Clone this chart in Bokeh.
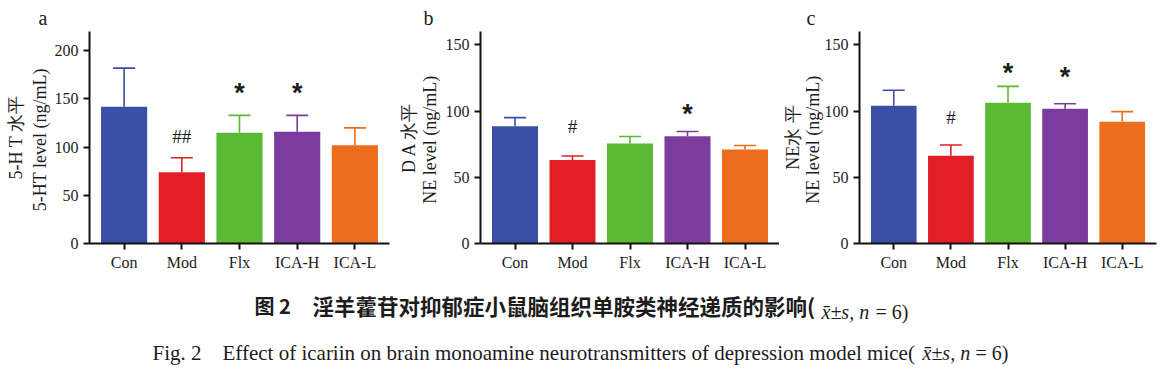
from bokeh.plotting import figure
from bokeh.models import FactorRange, Range1d, LinearAxis, FixedTicker, Title, ColumnDataSource
from bokeh.layouts import column, row
from bokeh.embed import file_html
from bokeh.resources import INLINE
from bokeh.core.properties import value

# ---------------- data ----------------
cats = ["Con", "Mod", "Flx", "ICA-H", "ICA-L"]
bar_colors = ["#3A50A8", "#E21F26", "#5BB935", "#7B3C9E", "#EC6D1C"]

ht_mean = [142, 74, 115, 116, 102]
ht_sd = [40, 15, 18, 17, 18]
da_mean = [88.5, 63, 75.5, 81, 71]
da_sd = [6.5, 3, 5.3, 3.5, 3]
ne_mean = [104, 66.3, 106.3, 101.7, 91.9]
ne_sd = [11.7, 8, 12.3, 3.8, 7.6]

ht_sig_cats = ["Mod", "Flx", "ICA-H"]
ht_sig_text = ["##", "*", "*"]
ht_sig_y = [111, 162, 162]
da_sig_cats = ["Mod", "ICA-H"]
da_sig_text = ["#", "*"]
da_sig_y = [88, 102.5]
ne_sig_cats = ["Mod", "Flx", "ICA-H"]
ne_sig_text = ["#", "*", "*"]
ne_sig_y = [95, 133, 130]

ht_ticks = [0, 50, 100, 150, 200]
da_ticks = [0, 50, 100, 150]
ne_ticks = [0, 50, 100, 150]

caption_cn_fig = "图 2"
caption_cn = "淫羊藿苷对抑郁症小鼠脑组织单胺类神经递质的影响("
caption_en_fig = "Fig. 2"
caption_en = "Effect of icariin on brain monoamine neurotransmitters of depression model mice("
caption_stat = "x\u0304±s, n"
caption_n = "= 6)"

SERIF = "Liberation Serif"
TXT = "#1c1c1c"


def panel(letter, letter_offset, mean, sd, ymax, ticks, lab_en, lab_cn, sig_cats,
          sig_text, sig_y, width, left, right, s1, s2):
    p = figure(width=width, height=280,
               x_range=FactorRange(*cats, range_padding=0.1, range_padding_units="absolute"),
               y_range=Range1d(0, ymax), output_backend="svg", toolbar_location=None,
               min_border_left=left, min_border_right=right, min_border_top=31,
               min_border_bottom=37)
    p.title = Title(text=letter, align="left", offset=letter_offset, standoff=5,
                    text_font=SERIF, text_font_size="20px", text_font_style="normal",
                    text_color=TXT)
    p.xgrid.visible = False
    p.ygrid.visible = False
    p.outline_line_color = None

    src = ColumnDataSource(dict(cat=cats, mean=mean, top=[m + s for m, s in zip(mean, sd)],
                                color=bar_colors))
    p.vbar(x="cat", top="mean", bottom=0, width=0.8, source=src,
           fill_color="color", line_color=None)
    p.segment(x0="cat", y0="mean", x1="cat", y1="top", source=src,
              line_color="color", line_width=1.6)
    p.scatter(x="cat", y="top", source=src, marker="dash", size=22,
              line_color="color", line_width=1.6)

    # significance marks
    hx = [c for c, t in zip(sig_cats, sig_text) if "#" in t]
    ht = [t for t in sig_text if "#" in t]
    hy = [y for y, t in zip(sig_y, sig_text) if "#" in t]
    p.text(x=hx, y=hy, text=ht, text_font=value(SERIF), text_font_size="19px",
           text_align="center", text_baseline="middle", text_color=TXT)
    sx = [c for c, t in zip(sig_cats, sig_text) if "*" in t]
    st = [t for t in sig_text if "*" in t]
    sy = [y for y, t in zip(sig_y, sig_text) if "*" in t]
    p.text(x=sx, y=sy, text=st, text_font=value("Liberation Sans"), text_font_size="27px",
           text_font_style="bold", text_align="center", text_baseline="middle",
           text_color=TXT, y_offset=6)

    # axes
    for ax in (p.xaxis[0], p.yaxis[0]):
        ax.axis_line_width = 2
        ax.axis_line_color = "#111111"
        ax.major_tick_line_width = 2
        ax.major_tick_line_color = "#111111"
        ax.major_tick_out = 6
        ax.major_tick_in = 0
        ax.minor_tick_line_color = None
        ax.major_label_text_font = SERIF
        ax.major_label_text_font_size = "16px"
        ax.major_label_text_color = TXT
    p.yaxis[0].ticker = FixedTicker(ticks=ticks)
    p.yaxis[0].axis_label = lab_en
    p.yaxis[0].axis_label_text_font = SERIF
    p.yaxis[0].axis_label_text_font_size = "18px"
    p.yaxis[0].axis_label_text_font_style = "normal"
    p.yaxis[0].axis_label_text_color = TXT
    p.yaxis[0].axis_label_standoff = s1
    p.xaxis[0].major_label_standoff = 4

    extra = LinearAxis(ticker=FixedTicker(ticks=[]), axis_line_color=None,
                       major_tick_line_color=None, minor_tick_line_color=None,
                       major_tick_out=0, major_tick_in=0, major_label_standoff=0,
                       axis_label=lab_cn, axis_label_standoff=s2,
                       axis_label_text_font=SERIF, axis_label_text_font_size="18px",
                       axis_label_text_font_style="normal", axis_label_text_color=TXT)
    p.add_layout(extra, "left")
    return p


pa = panel("a", -51, ht_mean, ht_sd, 220, ht_ticks, "5-HT level  (ng/mL)", "5-H T 水平",
           ht_sig_cats, ht_sig_text, ht_sig_y, 395, 89, 6, 2, 1)
pb = panel("b", -57, da_mean, da_sd, 160, da_ticks, "NE level  (ng/mL)", "D A 水平",
           da_sig_cats, da_sig_text, da_sig_y, 384, 84, 0, 3, -2)
pc = panel("c", -53, ne_mean, ne_sd, 160, ne_ticks, "NE level  (ng/mL)", "NE水 平",
           ne_sig_cats, ne_sig_text, ne_sig_y, 379, 77, 2, -1, -3)

# ---------------- caption ----------------
cap = figure(width=1166, height=101, x_range=Range1d(0, 1166), y_range=Range1d(101, 0),
             output_backend="svg", toolbar_location=None, x_axis_type=None,
             y_axis_type=None, min_border=0)
cap.xgrid.visible = False
cap.ygrid.visible = False
cap.outline_line_color = None

CJK = "Noto Sans CJK SC"
cap.text(x=[254], y=[24.5], text=[caption_cn_fig], text_font=value(CJK),
         text_font_size="20px", text_font_style="bold", text_baseline="middle",
         text_align="left", text_color=TXT)
cap.text(x=[312], y=[24.5], text=[caption_cn], text_font=value(CJK),
         text_font_size="21.5px", text_font_style="bold", text_baseline="middle",
         text_align="left", text_color=TXT)
cap.text(x=[821], y=[31], text=[caption_stat], text_font=value(SERIF),
         text_font_size="20px", text_font_style="italic", text_baseline="alphabetic",
         text_align="left", text_color=TXT)
cap.text(x=[908], y=[31], text=[caption_n], text_font=value(SERIF),
         text_font_size="20px", text_baseline="alphabetic", text_align="right",
         text_color=TXT)

cap.text(x=[152], y=[72], text=[caption_en_fig], text_font=value(SERIF),
         text_font_size="21px", text_baseline="alphabetic", text_align="left",
         text_color=TXT)
cap.text(x=[222], y=[72], text=[caption_en], text_font=value(SERIF),
         text_font_size="21px", text_baseline="alphabetic", text_align="left",
         text_color=TXT)
cap.text(x=[922], y=[72], text=[caption_stat], text_font=value(SERIF),
         text_font_size="20px", text_font_style="italic", text_baseline="alphabetic",
         text_align="left", text_color=TXT)
cap.text(x=[1008], y=[72], text=[caption_n], text_font=value(SERIF),
         text_font_size="20px", text_baseline="alphabetic", text_align="right",
         text_color=TXT)

layout = column(row(pa, pb, pc, spacing=0), cap, spacing=0)
open("out.html", "w").write(file_html(layout, INLINE))
